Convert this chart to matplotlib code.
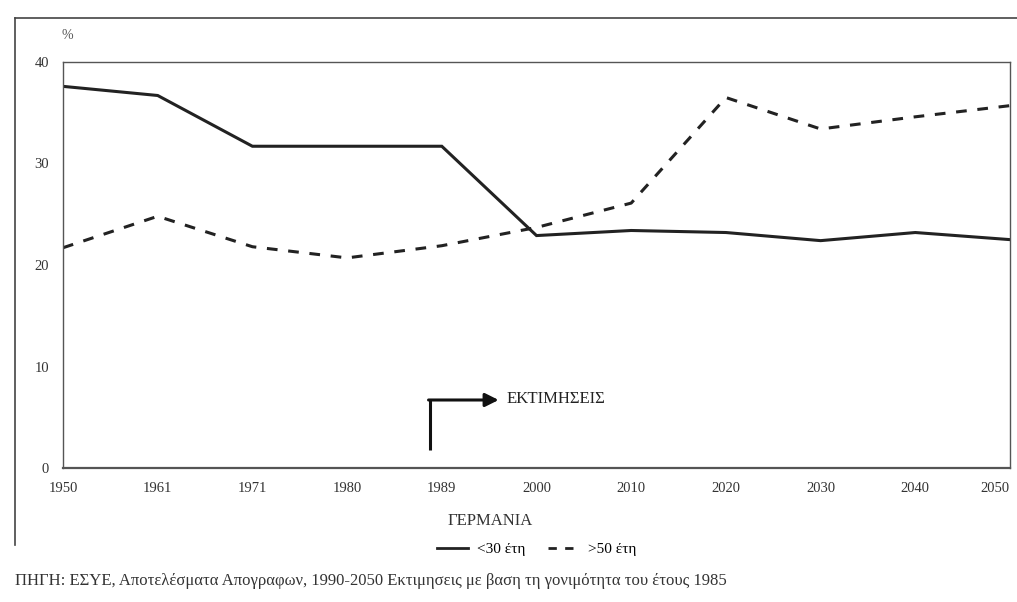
import matplotlib.pyplot as plt
from matplotlib.lines import Line2D

plt.rcParams['font.family'] = ['Liberation Serif', 'DejaVu Serif']

years = ['1950', '1961', '1971', '1980', '1989', '2000', '2010', '2020', '2030', '2040', '2050']
under30 = [37.6, 36.7, 31.7, 31.7, 31.7, 22.9, 23.4, 23.2, 22.4, 23.2, 22.5]
over50 = [21.7, 24.8, 21.8, 20.7, 21.9, 23.7, 26.1, 36.5, 33.4, 34.6, 35.7]
yticks = [0, 10, 20, 30, 40]

fig = plt.figure(figsize=(10.17, 6.02), dpi=100)
ax = fig.add_axes([63 / 1017, 1 - 468 / 602, (1010 - 63) / 1017, (468 - 62) / 602])

x = list(range(len(years)))
ax.plot(x, under30, color='#222222', lw=2.2, solid_joinstyle='miter')
ax.plot(x, over50, color='#222222', lw=2.2, ls=(0, (3.5, 3.5)))

ax.set_xlim(0, len(years) - 1)
ax.set_ylim(0, 40)
ax.set_xticks(x)
ax.set_xticklabels(years)
ax.set_yticks(yticks)
ax.tick_params(length=0, labelsize=10.5, colors='#333333', pad=10)
ax.get_xticklabels()[-1].set_horizontalalignment('right')
for s in ax.spines.values():
    s.set_color('#555555')
    s.set_linewidth(1.0)
ax.spines['bottom'].set_linewidth(1.6)

ax.text(0.05, 42.6, '%', fontsize=10, color='#555555', ha='center', va='center', clip_on=False)

# estimates arrow
ax.plot([3.88, 3.88], [1.8, 6.7], color='#111111', lw=2.2, solid_capstyle='butt')
ax.annotate('', xy=(4.6, 6.7), xytext=(3.86, 6.7),
            arrowprops=dict(arrowstyle='-|>', color='#111111', lw=2.2, mutation_scale=20,
                            shrinkA=0, shrinkB=0))
ax.text(4.68, 6.8, 'ΕΚΤΙΜΗΣΕΙΣ', fontsize=12, color='#222222', va='center')

ax.set_xlabel('ΓΕΡΜΑΝΙΑ', fontsize=12, color='#333333')
ax.xaxis.set_label_coords((490 - 63) / (1010 - 63), -(513 - 468) / (468 - 62))

handles = [Line2D([], [], color='#222222', lw=2),
           Line2D([], [], color='#222222', lw=2, ls=(0, (3, 3)))]
fig.legend(handles, ['<30 έτη', '>50 έτη'], loc='center', bbox_to_anchor=(537 / 1017, 1 - 549 / 602),
           ncol=2, frameon=False, fontsize=11, handlelength=2.0, columnspacing=1.5, handletextpad=0.6)

fig.text(15 / 1017, 1 - 581 / 602,
         'ΠΗΓΗ: ΕΣΥΕ, Αποτελέσματα Απογραφων, 1990-2050 Εκτιμησεις με βαση τη γονιμότητα του έτους 1985',
         fontsize=12, color='#333333', va='center')

# outer frame of the scanned page
fig.add_artist(Line2D([15 / 1017, 1], [1 - 18 / 602, 1 - 18 / 602], color='#444444', lw=1.2))
fig.add_artist(Line2D([15 / 1017, 15 / 1017], [1 - 18 / 602, 1 - 545 / 602], color='#444444', lw=1.2))

fig.savefig('out.png', dpi=100)
